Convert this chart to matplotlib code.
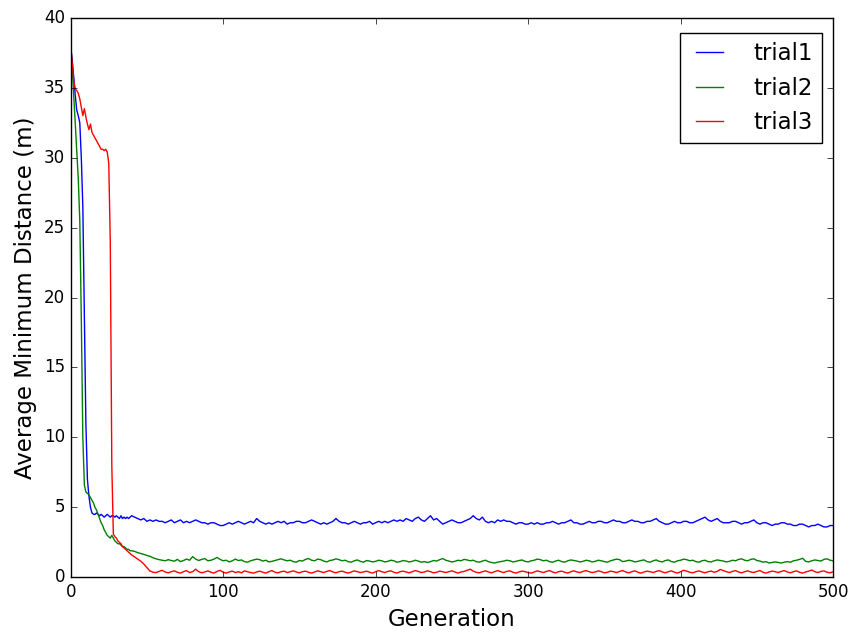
import matplotlib
matplotlib.use('Agg')
import matplotlib.pyplot as plt

# generations 0..40 one by one, then every 2nd generation from 42 up to 500
early_gens = list(range(0, 41))

trial1_early = [38.0, 37.0, 35.8, 34.5, 33.4, 33.0, 32.5, 30.0, 26.5, 19.0,
                11.0, 7.0, 5.8, 5.0, 4.6, 4.5, 4.5, 4.6, 4.5, 4.4,
                4.5, 4.4, 4.3, 4.4, 4.5, 4.4, 4.3, 4.4, 4.4, 4.3,
                4.4, 4.3, 4.2, 4.4, 4.2, 4.3, 4.2, 4.3, 4.2, 4.3, 4.4]
trial1_tail = [4.3, 4.2, 4.1, 4.2, 4.0, 4.1, 4.0, 4.1, 4.0, 4.0,
               3.9, 4.0, 4.1, 3.9, 4.0, 4.1, 3.9, 4.0, 3.9, 4.0,
               4.1, 4.0, 3.9, 3.9, 3.8, 3.9, 3.9, 3.8, 3.7, 3.7,
               3.8, 3.9, 3.8, 3.9, 4.0, 3.9, 3.8, 3.9, 4.0, 3.9,
               4.2, 4.0, 3.9, 3.8, 3.9, 3.8, 3.9, 4.0, 3.9, 4.0,
               3.8, 3.9, 3.9, 4.0, 4.0, 3.9, 3.9, 4.0, 4.1, 4.0,
               3.9, 3.8, 3.9, 3.8, 3.9, 4.0, 4.2, 4.0, 3.9, 3.9,
               3.8, 3.9, 4.0, 3.9, 3.8, 3.9, 3.9, 4.0, 3.8, 3.9,
               4.0, 3.9, 4.0, 3.9, 4.0, 4.1, 4.0, 4.1, 4.0, 4.2,
               4.1, 4.0, 4.2, 4.3, 4.1, 4.0, 4.2, 4.4, 4.1, 4.2,
               4.0, 3.8, 3.9, 4.0, 4.1, 4.0, 3.9, 3.9, 4.0, 4.1,
               4.2, 4.4, 4.2, 4.1, 4.3, 4.0, 3.9, 4.0, 3.9, 4.1,
               4.0, 4.1, 4.0, 4.0, 3.9, 3.8, 3.9, 3.9, 3.8, 3.8,
               3.9, 3.8, 3.9, 3.8, 3.8, 3.9, 3.9, 4.0, 3.9, 3.8,
               3.9, 3.9, 4.0, 4.1, 3.9, 3.9, 3.8, 3.8, 3.9, 4.0,
               3.9, 3.9, 4.0, 4.0, 3.9, 3.9, 4.0, 4.1, 4.0, 4.0,
               3.9, 3.9, 4.0, 4.1, 4.0, 4.0, 3.9, 3.9, 4.0, 4.0,
               4.1, 4.2, 4.0, 3.9, 3.8, 3.8, 3.9, 4.0, 3.9, 3.9,
               4.0, 4.0, 3.9, 3.9, 4.0, 4.1, 4.2, 4.3, 4.1, 4.0,
               4.1, 4.2, 4.0, 3.9, 3.9, 3.9, 4.0, 4.0, 3.9, 3.8,
               3.9, 3.9, 4.0, 4.1, 3.9, 3.8, 3.9, 3.9, 3.8, 3.7,
               3.8, 3.8, 3.9, 3.9, 3.8, 3.8, 3.7, 3.7, 3.8, 3.8,
               3.7, 3.6, 3.7, 3.7, 3.8, 3.7, 3.6, 3.6, 3.7, 3.7]

trial2_early = [38.0, 36.5, 34.5, 32.5, 30.5, 28.5, 25.5, 18.5, 10.0, 6.6,
                6.1, 6.0, 5.9, 5.7, 5.5, 5.3, 5.0, 4.8, 4.5, 4.2,
                3.9, 3.7, 3.4, 3.2, 3.0, 2.9, 2.8, 3.0, 2.8, 2.6,
                2.5, 2.4, 2.4, 2.3, 2.2, 2.2, 2.1, 2.0, 2.0, 1.9, 1.9]
trial2_tail = [1.85, 1.76, 1.70, 1.64, 1.56, 1.50, 1.40, 1.32, 1.26, 1.22,
               1.18, 1.26, 1.20, 1.15, 1.28, 1.12, 1.20, 1.30, 1.22, 1.48,
               1.30, 1.20, 1.28, 1.34, 1.18, 1.22, 1.30, 1.42, 1.28, 1.18,
               1.22, 1.10, 1.18, 1.30, 1.20, 1.24, 1.12, 1.08, 1.18, 1.24,
               1.30, 1.26, 1.16, 1.22, 1.10, 1.14, 1.20, 1.26, 1.32, 1.24,
               1.18, 1.22, 1.12, 1.08, 1.20, 1.16, 1.28, 1.34, 1.22, 1.18,
               1.30, 1.26, 1.16, 1.10, 1.20, 1.24, 1.32, 1.26, 1.18, 1.22,
               1.12, 1.08, 1.18, 1.24, 1.14, 1.08, 1.20, 1.16, 1.10, 1.14,
               1.22, 1.18, 1.10, 1.14, 1.22, 1.18, 1.08, 1.12, 1.20, 1.16,
               1.10, 1.14, 1.22, 1.16, 1.08, 1.12, 1.06, 1.12, 1.20, 1.16,
               1.26, 1.34, 1.22, 1.16, 1.10, 1.14, 1.22, 1.18, 1.28, 1.24,
               1.18, 1.22, 1.12, 1.08, 1.16, 1.22, 1.12, 1.06, 1.02, 1.08,
               1.12, 1.16, 1.22, 1.18, 1.10, 1.14, 1.20, 1.24, 1.14, 1.10,
               1.18, 1.22, 1.30, 1.26, 1.18, 1.22, 1.12, 1.08, 1.16, 1.22,
               1.12, 1.08, 1.18, 1.24, 1.20, 1.16, 1.10, 1.14, 1.22, 1.18,
               1.10, 1.14, 1.22, 1.18, 1.12, 1.08, 1.18, 1.24, 1.30, 1.26,
               1.12, 1.16, 1.22, 1.18, 1.10, 1.14, 1.20, 1.24, 1.12, 1.08,
               1.18, 1.24, 1.14, 1.10, 1.20, 1.24, 1.12, 1.08, 1.18, 1.22,
               1.30, 1.26, 1.18, 1.22, 1.12, 1.08, 1.18, 1.22, 1.12, 1.10,
               1.18, 1.24, 1.20, 1.16, 1.10, 1.14, 1.22, 1.18, 1.28, 1.32,
               1.22, 1.18, 1.28, 1.32, 1.20, 1.16, 1.08, 1.12, 1.02, 1.06,
               1.10, 1.06, 1.02, 1.08, 1.12, 1.08, 1.18, 1.22, 1.28, 1.36,
               1.14, 1.10, 1.18, 1.24, 1.20, 1.16, 1.28, 1.32, 1.22, 1.18]

trial3_early = [38.0, 36.8, 35.5, 34.9, 34.8, 34.6, 34.2, 33.6, 33.0, 33.5,
                32.9, 32.4, 32.0, 32.4, 31.8, 31.6, 31.4, 31.2, 31.0, 30.8,
                30.6, 30.6, 30.5, 30.6, 30.4, 29.6, 24.0, 8.0, 3.1, 2.9,
                2.8, 2.6, 2.5, 2.4, 2.2, 2.1, 2.0, 1.9, 1.8, 1.7, 1.6]
trial3_tail = [1.45, 1.30, 1.15, 0.95, 0.70, 0.45, 0.36, 0.34, 0.42, 0.50,
               0.38, 0.32, 0.40, 0.46, 0.36, 0.30, 0.40, 0.48, 0.34, 0.40,
               0.58, 0.40, 0.32, 0.38, 0.46, 0.36, 0.30, 0.42, 0.50, 0.36,
               0.30, 0.38, 0.44, 0.34, 0.40, 0.32, 0.46, 0.40, 0.34, 0.30,
               0.38, 0.44, 0.36, 0.30, 0.40, 0.48, 0.36, 0.32, 0.40, 0.44,
               0.34, 0.40, 0.46, 0.38, 0.32, 0.40, 0.44, 0.36, 0.30, 0.38,
               0.46, 0.40, 0.34, 0.42, 0.48, 0.38, 0.32, 0.40, 0.44, 0.36,
               0.30, 0.38, 0.46, 0.40, 0.34, 0.38, 0.44, 0.36, 0.30, 0.40,
               0.48, 0.40, 0.34, 0.42, 0.46, 0.36, 0.30, 0.40, 0.44, 0.38,
               0.32, 0.40, 0.48, 0.42, 0.34, 0.38, 0.46, 0.40, 0.32, 0.36,
               0.44, 0.40, 0.34, 0.40, 0.46, 0.38, 0.30, 0.38, 0.42, 0.50,
               0.58, 0.44, 0.36, 0.32, 0.40, 0.46, 0.38, 0.32, 0.40, 0.48,
               0.40, 0.34, 0.42, 0.46, 0.36, 0.30, 0.38, 0.44, 0.40, 0.34,
               0.30, 0.38, 0.46, 0.40, 0.34, 0.42, 0.48, 0.38, 0.32, 0.40,
               0.44, 0.36, 0.30, 0.40, 0.46, 0.38, 0.34, 0.42, 0.48, 0.40,
               0.34, 0.38, 0.46, 0.40, 0.32, 0.36, 0.44, 0.40, 0.34, 0.42,
               0.48, 0.38, 0.32, 0.40, 0.46, 0.36, 0.30, 0.38, 0.44, 0.40,
               0.34, 0.42, 0.48, 0.38, 0.32, 0.40, 0.46, 0.36, 0.30, 0.40,
               0.50, 0.44, 0.36, 0.32, 0.40, 0.46, 0.38, 0.32, 0.40, 0.44,
               0.36, 0.42, 0.56, 0.48, 0.40, 0.34, 0.42, 0.48, 0.38, 0.32,
               0.40, 0.46, 0.38, 0.34, 0.42, 0.48, 0.36, 0.30, 0.38, 0.44,
               0.40, 0.34, 0.42, 0.48, 0.38, 0.32, 0.40, 0.46, 0.36, 0.30,
               0.38, 0.44, 0.52, 0.40, 0.34, 0.42, 0.46, 0.36, 0.32, 0.40]

labels = ['trial1', 'trial2', 'trial3']


def gens_for(tail):
    return early_gens + [42 + 2 * i for i in range(len(tail))]


plt.style.use('classic')
fig = plt.figure(figsize=(8.51, 6.33), dpi=100, facecolor='white')
ax = fig.add_axes([0.083, 0.088, 0.896, 0.884])

series = [(trial1_early, trial1_tail, 'b'),
          (trial2_early, trial2_tail, 'g'),
          (trial3_early, trial3_tail, 'r')]
for (early, tail, c), lab in zip(series, labels):
    ax.plot(gens_for(tail), early + tail, color=c, label=lab)

ax.set_xlim(0, 500)
ax.set_ylim(0, 40)
ax.set_xlabel('Generation', fontsize=16.5)
ax.set_ylabel('Average Minimum Distance (m)', fontsize=16.5)
ax.tick_params(labelsize=12)
ax.legend(loc='upper right', fontsize=16.5, handlelength=1.8,
          handletextpad=1.0, bbox_to_anchor=(1.0, 0.993))

fig.savefig('out.png', facecolor='white')
